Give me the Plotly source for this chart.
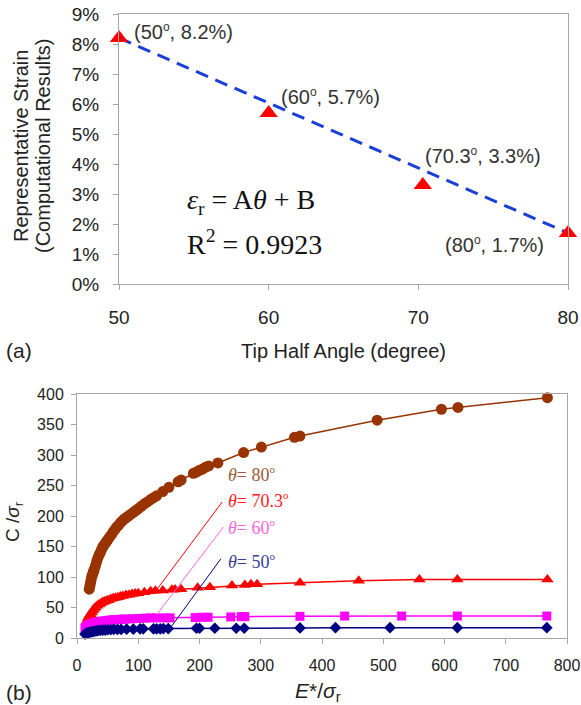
import plotly.graph_objects as go

# ---------------- data: panel (a) ----------------
angle = [50, 60, 70.3, 80]
strain = [8.2, 5.7, 3.3, 1.7]
fit_angle = [50, 80]
fit_strain = [8.2, 1.7]
SUP_O = "<sup><span style='font-size:12px'>o</span></sup>"
point_labels = ["(50" + SUP_O + ", 8.2%)", "(60" + SUP_O + ", 5.7%)",
                "(70.3" + SUP_O + ", 3.3%)", "(80" + SUP_O + ", 1.7%)"]

# ---------------- data: panel (b) ----------------
x80 = [20, 21, 22, 23, 24, 25, 26, 27, 28, 30, 32, 34, 36, 38, 40, 42, 44, 46, 48, 50,
       53, 56, 59, 62, 65, 68, 71, 74, 77, 80, 84, 88, 92, 96, 100, 105, 110, 115, 120,
       125, 130, 140, 150, 165, 170, 190, 195, 200, 205, 210, 215, 230, 272, 301, 355,
       364, 490, 595, 622, 768]
y80 = [80, 85, 90, 95, 100, 103, 106, 109, 112, 118, 125, 131, 136, 140, 145, 149, 152,
       155, 158, 161, 165, 169, 174, 178, 182, 185, 189, 192, 195, 197, 200, 203, 206,
       209, 212, 216, 220, 223, 227, 230, 233, 240, 247, 256, 259, 270, 272, 275, 277,
       280, 282, 287, 304, 313, 329, 331, 357, 375, 378, 394]

x70 = [16, 18, 20, 22, 24, 26, 28, 30, 33, 36, 39, 42, 45, 48, 51, 55, 59, 63, 67, 71,
       75, 80, 85, 90, 95, 100, 110, 120, 128, 140, 155, 160, 170, 197, 217, 253, 274,
       284, 294, 364, 460, 559, 621, 768]
y70 = [27, 32, 36, 39, 42, 45, 48, 50, 53, 55, 57, 59, 60, 61, 62, 64, 65, 66, 67, 68,
       69, 70.5, 71, 72, 73, 73.5, 75, 76.5, 77.5, 78, 79, 79.5, 80, 82.5, 83, 86, 87,
       88, 88, 90.6, 94, 96, 96, 96]

x60 = [13, 15, 17, 19, 21, 23, 25, 28, 31, 34, 37, 40, 44, 48, 52, 56, 60, 65, 70, 75,
       80, 90, 100, 110, 120, 130, 144, 152, 193, 205, 214, 251, 268, 274, 364, 437,
       530, 621, 767]
y60 = [16, 18, 20, 21, 22, 23, 24, 25, 26, 26.5, 27, 27.5, 28, 28.5, 29, 29.5, 30, 30,
       30.5, 31, 31, 31.5, 32, 32.5, 33, 33, 33, 33, 33.5, 34, 34, 34.5, 35, 35, 35.5,
       36, 36, 36, 36]

x50 = [13, 15, 17, 19, 21, 23, 25, 28, 31, 34, 38, 42, 46, 50, 55, 60, 66, 72, 81, 92,
       103, 108, 125, 130, 136, 141, 149, 195, 200, 225, 260, 273, 364, 422, 511, 621,
       767]
y50 = [6.5, 7.5, 8.5, 9, 9.5, 10, 10.5, 11, 11.5, 12, 12.5, 13, 13, 13.5, 13.5, 14, 14,
       14, 14.5, 14.5, 15, 15, 15, 15, 15, 15.5, 15.5, 16, 16, 16, 16, 16, 16.5, 17, 17,
       17, 17]

W, H = 581, 705
SANS = "Liberation Sans, Arial, sans-serif"
SERIF = "Liberation Serif, Times New Roman, serif"
AXC = "#a6a6a6"

def px(xp):
    return xp / W

def py(yp):
    return 1 - yp / H

fig = go.Figure()

# panel (a)
fig.add_trace(go.Scatter(x=fit_angle, y=fit_strain, mode="lines",
                         line=dict(color="#1a3fd6", width=3, dash="13px,8px"),
                         xaxis="x", yaxis="y", showlegend=False, hoverinfo="skip"))
fig.add_trace(go.Scatter(x=angle, y=strain, mode="markers",
                         marker=dict(symbol="triangle-up", size=16, color="#ff0000"),
                         xaxis="x", yaxis="y", showlegend=False, cliponaxis=False))

# panel (b)
series = [
    (x80, y80, "#993300", "circle", 11),
    (x70, y70, "#ff0000", "triangle-up", 11),
    (x60, y60, "#ff00ff", "square", 9),
    (x50, y50, "#000080", "diamond", 9),
]
for xs, ys, c, sym, sz in series:
    fig.add_trace(go.Scatter(x=xs, y=ys, mode="lines+markers",
                             line=dict(color=c, width=1.5),
                             marker=dict(symbol=sym, size=sz, color=c),
                             xaxis="x2", yaxis="y2", showlegend=False, cliponaxis=False))

axis_common = dict(showline=True, linecolor=AXC, linewidth=1, mirror=True,
                   ticks="outside", ticklen=5, tickcolor=AXC, showgrid=False,
                   zeroline=False, automargin=False)

fig.update_layout(
    width=W, height=H,
    margin=dict(l=0, r=0, t=0, b=0),
    paper_bgcolor="white", plot_bgcolor="white",
    font=dict(family=SANS, color="#222222"),
    xaxis=dict(domain=[px(119), px(568)], anchor="y", range=[50, 80], dtick=10,
               tickfont=dict(size=19, family=SANS, color="#222"), ticklabelstandoff=11,
               **axis_common),
    yaxis=dict(domain=[py(284), py(14)], anchor="x", range=[0, 9], dtick=1,
               ticksuffix="%", tickfont=dict(size=19, family=SANS, color="#222"),
               ticklabelstandoff=10, **axis_common),
    xaxis2=dict(domain=[px(77), px(567)], anchor="y2", range=[0, 800], dtick=100,
                tickfont=dict(size=16, family=SANS, color="#222"), ticklabelstandoff=8,
                **axis_common),
    yaxis2=dict(domain=[py(638), py(394)], anchor="x2", range=[0, 400], dtick=50,
                tickfont=dict(size=16, family=SANS, color="#222"), ticklabelstandoff=4,
                **axis_common),
)

ann = []
def A(text, x, y, size, xanchor="center", family=SANS, color="#222", angle=0,
      xref="paper", yref="paper"):
    ann.append(dict(text=text, x=x, y=y, xref=xref, yref=yref, showarrow=False,
                    xanchor=xanchor, yanchor="middle", textangle=angle,
                    font=dict(size=size, family=family, color=color)))

# panel (a) texts
A("Representative Strain", px(21), py(146), 20, angle=-90)
A("(Computational Results)", px(43), py(146), 20, angle=-90)
A("Tip Half Angle (degree)", px(343), py(351), 20)
A("(a)", px(4), py(350), 21, xanchor="left")
lab_pos = [(132, 32), (279, 97), (423, 155), (443, 245)]
for t, (lx, ly) in zip(point_labels, lab_pos):
    A(t, px(lx), py(ly), 20, xanchor="left", color="#333")
A("<i>ε</i><sub>r</sub> = A<i>θ</i> + B", px(185), py(202), 28, xanchor="left",
  family=SERIF, color="#111")
A("R<sup>2</sup> = 0.9923", px(185), py(242), 28, xanchor="left",
  family=SERIF, color="#111")

# panel (b) texts
SUP_B = "<sup><span style='font-size:11px'>o</span></sup>"
A("C /<i>σ</i><sub>r</sub>", px(14), py(522), 19, angle=-90)
A("<i>E</i>*/<i>σ</i><sub>r</sub>", px(318), py(692), 21)
A("(b)", px(4), py(692), 21, xanchor="left")
A("<i>θ</i>= 80" + SUP_B, px(226), py(474), 18, xanchor="left", family=SERIF,
  color="#9b5a3a")
A("<i>θ</i>= 70.3" + SUP_B, px(226), py(500), 18, xanchor="left", family=SERIF,
  color="#ff2020")
A("<i>θ</i>= 60" + SUP_B, px(226), py(527), 18, xanchor="left", family=SERIF,
  color="#ff66dd")
A("<i>θ</i>= 50" + SUP_B, px(226), py(561), 18, xanchor="left", family=SERIF,
  color="#3c3c96")
fig.update_layout(annotations=ann)

# leader lines (data coords of panel b)
leaders = [((127, 75), (237, 223), "#ff0000"),
           ((130, 38), (239, 182), "#ff66dd"),
           ((152, 16), (235, 130), "#000080")]
for (x0, y0), (x1, y1), c in leaders:
    fig.add_shape(type="line", x0=x0, y0=y0, x1=x1, y1=y1, xref="x2", yref="y2",
                  line=dict(color=c, width=1))

fig.write_html("out.html",
               config={"displayModeBar": False},
               post_script="document.body.style.margin='0px';"
                           "document.body.style.overflow='hidden';")
